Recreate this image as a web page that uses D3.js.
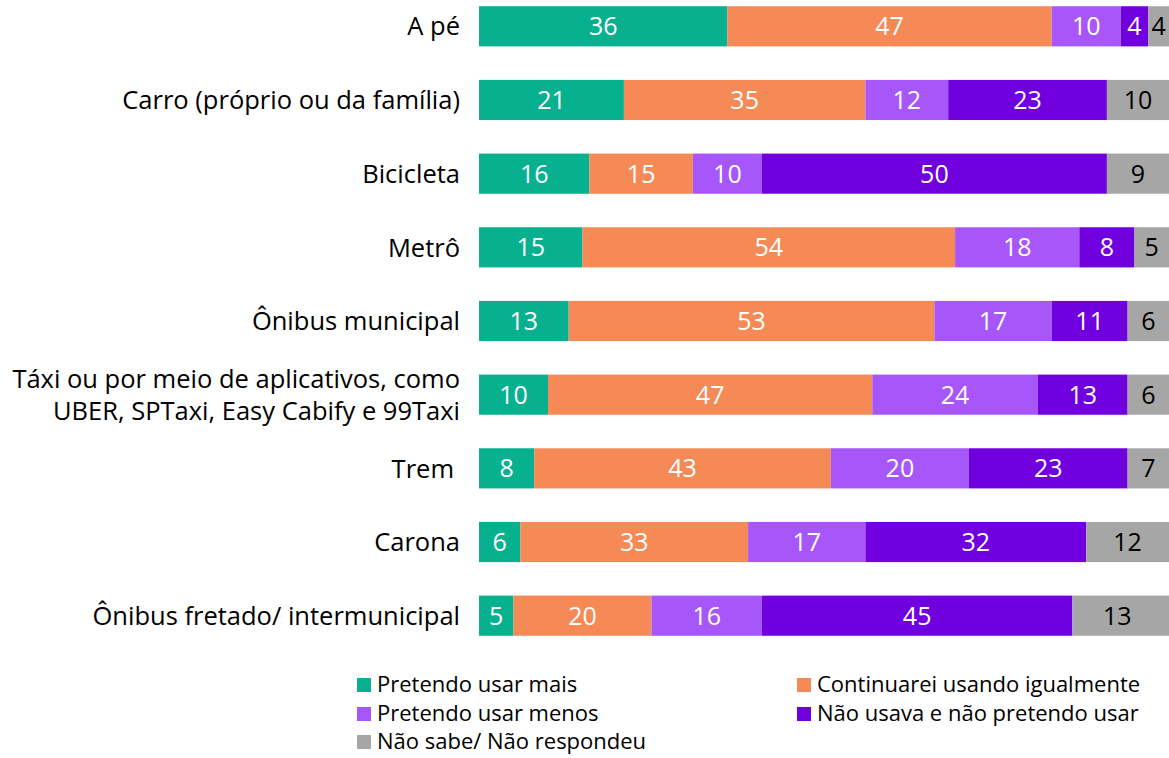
<!DOCTYPE html>
<html lang="pt">
<head>
<meta charset="UTF-8">
<title>Meios de transporte</title>
<style>
  body { margin: 0; background: #fff; }
  svg text { font-family: "Open Sans", Lato, sans-serif; }
</style>
</head>
<body>
<div id="chart"></div>
<script src="https://cdnjs.cloudflare.com/ajax/libs/d3/7.8.5/d3.min.js"></script>
<script>
// categories (top to bottom); multi-line labels split with "\n"
var categories = [
  "A pé",
  "Carro (próprio ou da família)",
  "Bicicleta",
  "Metrô",
  "Ônibus municipal",
  "Táxi ou por meio de aplicativos, como\nUBER, SPTaxi, Easy Cabify e 99Taxi",
  "Trem",
  "Carona",
  "Ônibus fretado/ intermunicipal"
];

var seriesNames = [
  "Pretendo usar mais",
  "Continuarei usando igualmente",
  "Pretendo usar menos",
  "Não usava e não pretendo usar",
  "Não sabe/ Não respondeu"
];

var usarMais     = [36, 21, 16, 15, 13, 10, 8, 6, 5];
var igualmente   = [47, 35, 15, 54, 53, 47, 43, 33, 20];
var usarMenos    = [10, 12, 10, 18, 17, 24, 20, 17, 16];
var naoPretendo  = [4, 23, 50, 8, 11, 13, 23, 32, 45];
var naoSabe      = [4, 10, 9, 5, 6, 6, 7, 12, 13];

var colors = ["#07b08f", "#f58a56", "#a757f9", "#7100de", "#a6a6a6"];
var textColors = ["#fff", "#fff", "#fff", "#fff", "#000"];

var W = 1169, H = 758;

var rows = categories.map(function (c, i) {
  return { cat: c, vals: [usarMais[i], igualmente[i], usarMenos[i], naoPretendo[i], naoSabe[i]] };
});

var svg = d3.select("#chart").append("svg")
  .attr("width", W)
  .attr("height", H);

var x = d3.scaleLinear().domain([0, 100]).range([479, 1169]);
var y = d3.scaleBand().domain(categories).range([-8.5, 650.5]).paddingInner(0.455).paddingOuter(0.2);

var rowG = svg.selectAll("g.row")
  .data(rows)
  .enter().append("g")
  .attr("class", "row");

rowG.each(function (d) {
  var g = d3.select(this);
  var acc = 0;
  var segs = d.vals.map(function (v, k) {
    var s = { x0: acc, x1: acc + v, v: v, k: k };
    acc += v;
    return s;
  });
  var yb = y(d.cat), bh = y.bandwidth();

  // last segment runs to the right edge (source totals are rounded)
  g.selectAll("rect")
    .data(segs)
    .enter().append("rect")
    .attr("x", s => x(s.x0))
    .attr("width", s => Math.max(x(s.x1), s.k === 4 ? W : 0) - x(s.x0))
    .attr("y", yb)
    .attr("height", bh)
    .attr("fill", s => colors[s.k]);

  g.selectAll("text.val")
    .data(segs)
    .enter().append("text")
    .attr("class", "val")
    .attr("x", s => Math.min((x(s.x0) + x(s.x1)) / 2, (x(s.x0) + W) / 2))
    .attr("y", yb + bh / 2)
    .attr("dy", "0.36em")
    .attr("text-anchor", "middle")
    .attr("font-size", 25)
    .attr("fill", s => textColors[s.k])
    .text(s => s.v);

  var lines = d.cat.split("\n");
  var lbl = g.append("text")
    .attr("x", 460)
    .attr("y", yb + bh / 2)
    .attr("text-anchor", "end")
    .attr("font-size", 25.5)
    .attr("fill", "#000");
  lines.forEach(function (t, j) {
    lbl.append("tspan")
      .attr("x", d.cat === "Trem" ? 454 : 460)
      .attr("dy", j === 0 ? (0.36 - (lines.length - 1) * 0.63) + "em" : "1.26em")
      .text(t);
  });
});

// legend
var legendPos = [[357, 685], [797, 685], [357, 714], [797, 714], [357, 742]];
var leg = svg.selectAll("g.legend")
  .data(seriesNames)
  .enter().append("g")
  .attr("class", "legend")
  .attr("transform", (d, i) => "translate(" + legendPos[i][0] + "," + legendPos[i][1] + ")");

leg.append("rect")
  .attr("x", 0)
  .attr("y", -7)
  .attr("width", 14)
  .attr("height", 14)
  .attr("fill", (d, i) => colors[i]);

leg.append("text")
  .attr("x", 20)
  .attr("y", 0)
  .attr("dy", "0.34em")
  .attr("font-size", 22)
  .attr("fill", "#000")
  .text(d => d);
</script>
</body>
</html>
